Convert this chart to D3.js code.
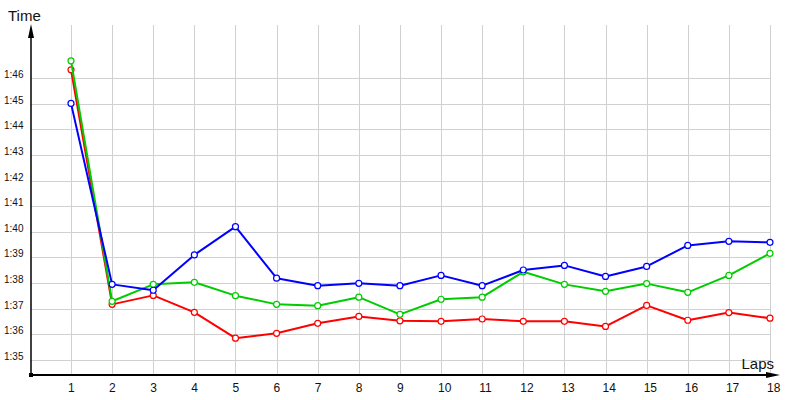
<!DOCTYPE html>
<html><head><meta charset="utf-8">
<script src="https://cdn.jsdelivr.net/npm/d3@7"></script>
<style>body{margin:0;background:#fff}svg{display:block}</style>
</head><body>
<svg id="c" width="800" height="400"></svg>
<script>
const laps = [1,2,3,4,5,6,7,8,9,10,11,12,13,14,15,16,17,18];
const yTicks = [95,96,97,98,99,100,101,102,103,104,105,106];
const yTickLabels = ["1:35","1:36","1:37","1:38","1:39","1:40","1:41","1:42","1:43","1:44","1:45","1:46"];
const redTimes   = [106.32,97.17,97.52,96.86,95.85,96.04,96.43,96.70,96.53,96.51,96.60,96.51,96.51,96.31,97.13,96.55,96.85,96.63];
const greenTimes = [106.67,97.29,97.95,98.03,97.51,97.17,97.12,97.45,96.78,97.37,97.45,98.44,97.95,97.68,97.98,97.64,98.30,99.16];
const blueTimes  = [105.01,97.95,97.72,99.10,100.20,98.19,97.90,97.99,97.90,98.30,97.90,98.51,98.69,98.26,98.65,99.47,99.63,99.59];
const seriesColors = ["#ff0000","#00cc00","#0000ff"];
const series = [redTimes, greenTimes, blueTimes];

const svg = d3.select("#c");
const x = d3.scaleLinear().domain([1,18]).range([71,770]);
const y = d3.scaleLinear().domain([95,106]).range([360,78]);
const x0 = 31, y0 = 375, gridTop = 25;

// grid
const g = svg.append("g").attr("stroke","#d0d0d0").attr("stroke-width",1).attr("shape-rendering","crispEdges");
laps.forEach(l => g.append("line").attr("x1",Math.round(x(l))+0.5).attr("x2",Math.round(x(l))+0.5).attr("y1",gridTop).attr("y2",y0));
yTicks.forEach(t => g.append("line").attr("x1",x0).attr("x2",770).attr("y1",Math.round(y(t))+0.5).attr("y2",Math.round(y(t))+0.5));

// axes
svg.append("line").attr("x1",x0).attr("x2",x0).attr("y1",y0).attr("y2",30).attr("stroke","#000").attr("stroke-width",1.5);
svg.append("line").attr("x1",x0).attr("x2",772).attr("y1",y0).attr("y2",y0).attr("stroke","#000").attr("stroke-width",1.8);
svg.append("path").attr("d",`M${x0},24 L${x0-3},38 L${x0+3},38 Z`).attr("fill","#000");
svg.append("path").attr("d",`M780,${y0} L766,${y0-3} L766,${y0+3} Z`).attr("fill","#000");
svg.append("rect").attr("x",x0-2).attr("y",y0-2).attr("width",4).attr("height",4).attr("fill","#000");

// tick labels
svg.append("g").selectAll("text").data(yTicks).join("text")
  .attr("x",4).attr("y",d=>y(d)).text((d,i)=>yTickLabels[i])
  .attr("font-family","Liberation Sans, Arial, sans-serif").attr("font-size",10).attr("fill","#111");
svg.append("g").selectAll("text").data(laps).join("text")
  .attr("x",d=>x(d)-3).attr("y",392).text(d=>d)
  .attr("font-family","Liberation Sans, Arial, sans-serif").attr("font-size",12).attr("fill","#111");

svg.append("text").attr("x",8).attr("y",21).text("Time")
  .attr("font-family","Liberation Sans, Arial, sans-serif").attr("font-size",15).attr("fill","#111");
svg.append("text").attr("x",774).attr("y",369).attr("text-anchor","end").text("Laps")
  .attr("font-family","Liberation Sans, Arial, sans-serif").attr("font-size",15).attr("fill","#111");

// series
const line = d3.line().x((d,i)=>x(laps[i])).y(d=>y(d));
series.forEach((s,k) => {
  svg.append("path").attr("d",line(s)).attr("fill","none").attr("stroke",seriesColors[k]).attr("stroke-width",2).attr("stroke-linejoin","round");
  svg.append("g").selectAll("circle").data(s).join("circle")
    .attr("cx",(d,i)=>x(laps[i])).attr("cy",d=>y(d)).attr("r",3)
    .attr("fill","#fff").attr("stroke",seriesColors[k]).attr("stroke-width",1.2);
});
</script>
</body></html>
